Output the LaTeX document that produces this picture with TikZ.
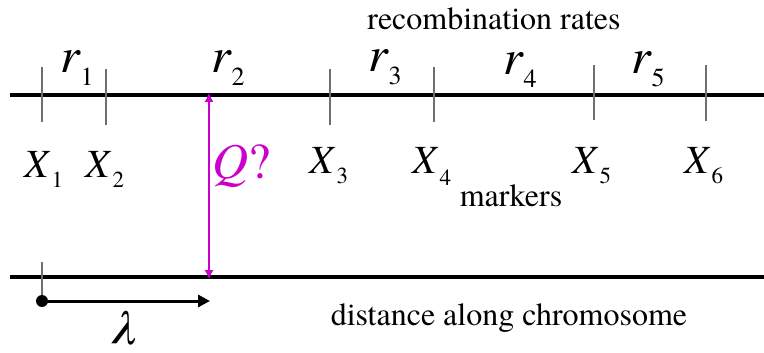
\documentclass[tikz,border=0pt]{standalone}
\usepackage{fontspec}
\setmainfont{texgyretermes}[Extension=.otf, UprightFont=*-regular, ItalicFont=*-italic, BoldFont=*-bold, BoldItalicFont=*-bolditalic]
\usetikzlibrary{arrows.meta}
\definecolor{mag}{RGB}{204,0,204}
\definecolor{tickgray}{RGB}{112,112,112}
\newcommand{\rlab}[1]{{\fontsize{50}{50}\selectfont\itshape r}\kern1pt\raisebox{-13pt}{\fontsize{26}{26}\selectfont #1}}
\newcommand{\xlab}[2]{{\fontsize{40}{40}\selectfont\itshape X}\kern3pt\raisebox{-#2}{\fontsize{23}{23}\selectfont #1}}
\begin{document}
\begin{tikzpicture}[x=1pt,y=-1pt,
  chrom/.style={line width=3.5pt},
  tickline/.style={draw=tickgray, line width=1.5pt},
  lbl/.style={inner sep=0pt, anchor=base west},
  txt/.style={inner sep=0pt, anchor=base, font=\fontsize{32}{32}\selectfont},
  qarrow/.style={draw=mag, line width=1.2pt, {Latex[length=9pt,width=9pt]}-{Latex[length=9pt,width=9pt]}},
  larrow/.style={line width=3pt, -{Triangle[length=12pt,width=12pt]}}]
\useasboundingbox (0,0) rectangle (764,353);
% chromosome lines
\coordinate (tl) at (10,95); \coordinate (tr) at (764,95);
\coordinate (bl) at (10,277); \coordinate (br) at (764,277);
\draw[chrom] (tl) -- (tr);
\draw[chrom] (bl) -- (br);
% marker ticks
\coordinate (a1) at (42,67);  \coordinate (b1) at (42,122);
\coordinate (a2) at (106,69); \coordinate (b2) at (106,125);
\coordinate (a3) at (330,69); \coordinate (b3) at (330,125);
\coordinate (a4) at (434,67); \coordinate (b4) at (434,122);
\coordinate (a5) at (594,65); \coordinate (b5) at (594,120);
\coordinate (a6) at (706,65); \coordinate (b6) at (706,121);
\foreach \i in {1,...,6} \draw[tickline] (a\i) -- (b\i);
\coordinate (a0) at (42,262); \coordinate (b0) at (42,301);
\draw[tickline] (a0) -- (b0);
% recombination rates
\node[lbl] (r1) at (60,73) {\rlab{1}};
\node[lbl] (r2) at (211,73) {\rlab{2}};
\node[lbl] (r3) at (368,72) {\rlab{3}};
\node[lbl] (r4) at (503,75) {\rlab{4}};
\node[lbl] (r5) at (631,74) {\rlab{5}};
% markers
\node[lbl] (x1) at (24,177) {\xlab{1}{10pt}};
\node[lbl] (x2) at (85,177) {\xlab{2}{10pt}};
\node[lbl] (x3) at (309,173) {\xlab{3}{10pt}};
\node[lbl] (x4) at (412,173) {\xlab{4}{13pt}};
\node[lbl] (x5) at (572,173) {\xlab{5}{10pt}};
\node[lbl] (x6) at (684,173) {\xlab{6}{10pt}};
% texts
\node[txt] (rr) at (494,30) {recombination rates};
\node[txt] (mk) at (511,206) {markers};
\node[txt] (dc) at (509,325) {distance along chromosome};
% QTL arrow
\coordinate (qt) at (209,95); \coordinate (qb) at (209,277);
\draw[qarrow] ([yshift=2pt]qt) -- ([yshift=-2pt]qb);
\node[lbl, text=mag] (q) at (212,178) {\fontsize{50}{50}\selectfont\itshape Q\upshape ?};
% lambda
\node[circle, fill=black, inner sep=0pt, minimum size=12pt] (dot) at (42,301) {};
\coordinate (lend) at (210,301);
\draw[larrow] (dot.center) -- (lend);
\node[inner sep=0pt, anchor=base] (lam) at (123,344) {\fontsize{50}{50}\selectfont\itshape λ};
\end{tikzpicture}
\end{document}
